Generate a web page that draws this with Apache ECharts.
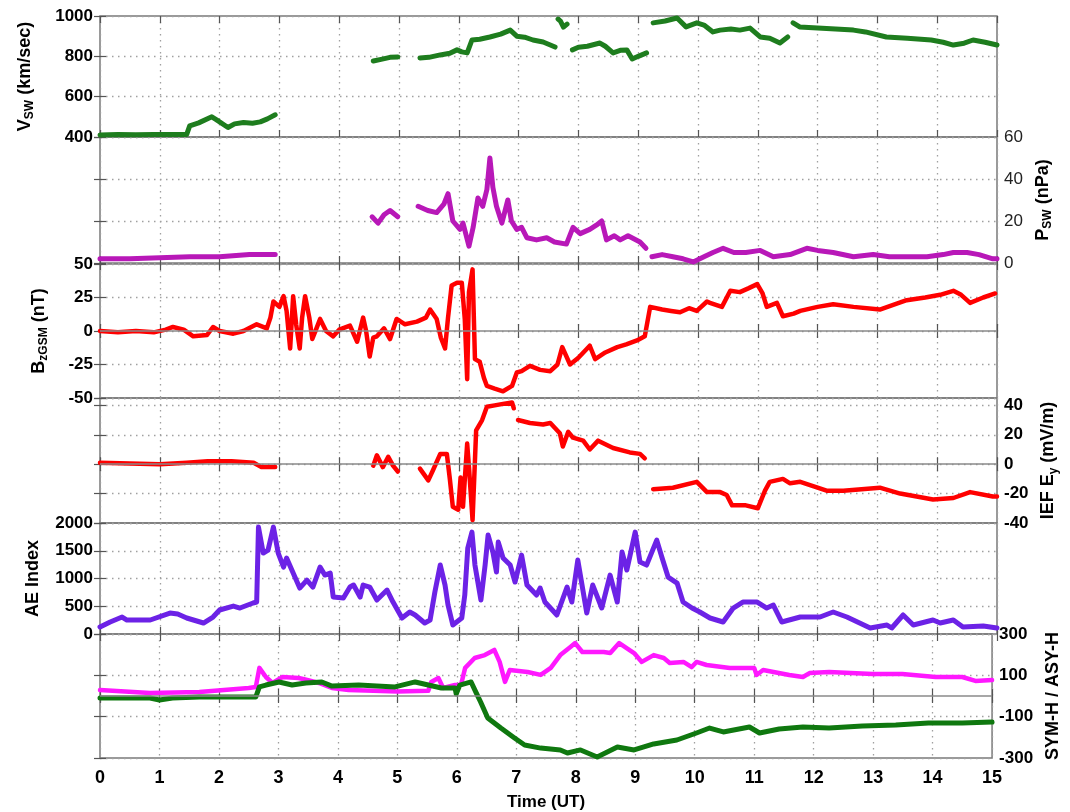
<!DOCTYPE html>
<html>
<head>
<meta charset="utf-8">
<script src="https://cdn.jsdelivr.net/npm/echarts@6/dist/echarts.min.js"></script>
<style>html,body{margin:0;padding:0;background:#fff}#c{width:1070px;height:812px}</style>
</head>
<body>
<div id="c"></div>
<script>
// ---------- DATA (time in UT hours, '-' = data gap) ----------
const xTicks = [0,1,2,3,4,5,6,7,8,9,10,11,12,13,14,15];

const vswData = [[0,410],[0.3,412],[0.6,411],[0.9,413],[1.2,412],[1.45,413],[1.5,455],[1.65,470],[1.87,500],[1.95,485],[2.14,447],[2.25,465],[2.4,472],[2.55,468],[2.68,475],[2.8,490],[2.93,510],[3.0,'-'],
 [4.57,777],[4.7,785],[4.85,795],[4.98,797],[5.1,'-'],
 [5.35,792],[5.5,795],[5.69,807],[5.85,815],[5.97,832],[6.05,822],[6.14,817],[6.22,881],[6.35,885],[6.52,896],[6.7,910],[6.86,930],[6.97,900],[7.1,895],[7.24,881],[7.41,871],[7.5,860],[7.61,846],[7.63,'-'],
 [7.66,985],[7.7,975],[7.75,945],[7.81,960],[7.85,'-'],
 [7.9,832],[8.0,845],[8.15,850],[8.36,866],[8.45,850],[8.58,817],[8.7,830],[8.81,832],[8.9,787],[9.0,800],[9.14,817],[9.2,'-'],
 [9.25,966],[9.45,975],[9.65,990],[9.8,946],[9.98,966],[10.1,955],[10.25,921],[10.37,930],[10.55,935],[10.7,930],[10.87,940],[11.04,896],[11.2,890],[11.37,866],[11.5,896],[11.55,'-'],
 [11.59,966],[11.7,946],[12.0,940],[12.3,935],[12.6,930],[12.8,921],[13.15,896],[13.5,890],[13.9,881],[14.1,870],[14.27,856],[14.45,865],[14.6,881],[14.8,870],[15,856]];

const pswData = [[0,2],[0.5,2],[1.0,2.5],[1.5,3],[2.0,3],[2.5,4],[2.93,4],[3.0,'-'],
 [4.55,22],[4.65,19],[4.75,23],[4.85,25],[4.98,22],[5.1,'-'],
 [5.32,27],[5.48,25],[5.63,24],[5.75,28],[5.82,33],[5.9,20],[6.02,16],[6.07,19],[6.17,8],[6.24,17],[6.32,31],[6.4,27],[6.47,35],[6.52,50],[6.57,36],[6.63,27],[6.72,19],[6.82,30],[6.88,20],[6.97,16],[7.05,17],[7.14,12],[7.3,11],[7.47,12],[7.6,10],[7.8,9],[7.91,17],[8.03,14],[8.19,16],[8.3,18],[8.39,20],[8.47,11],[8.6,13],[8.7,11],[8.83,13],[9.03,10],[9.13,7],[9.18,'-'],
 [9.23,3],[9.4,4],[9.58,3],[9.75,2],[9.92,0.5],[10.1,3],[10.25,5],[10.42,7],[10.6,5],[10.8,5],[11.04,6],[11.26,3],[11.54,4],[11.82,7],[12.0,6],[12.26,5],[12.6,3],[12.93,4],[13.2,3],[13.38,3],[13.83,3],[14.1,4],[14.27,5],[14.5,5],[14.7,4],[14.93,2],[15,2]];

const bzData = [[0,0],[0.3,-1],[0.6,0],[0.9,-1],[1.1,1],[1.22,3],[1.4,1],[1.56,-4],[1.79,-3],[1.89,3],[2.0,0],[2.23,-2],[2.4,0],[2.62,5],[2.79,2],[2.85,10],[2.9,22],[3.0,18],[3.07,26],[3.12,15],[3.18,-13],[3.23,26],[3.28,5],[3.34,-13],[3.38,10],[3.43,26],[3.5,10],[3.55,-6],[3.62,2],[3.68,9],[3.78,0],[3.9,-4],[4.0,1],[4.18,4],[4.3,-8],[4.4,10],[4.45,0],[4.51,-19],[4.57,-5],[4.63,-4],[4.75,2],[4.85,-6],[4.96,9],[5.1,5],[5.3,7],[5.45,10],[5.52,16],[5.63,9],[5.7,-5],[5.77,-13],[5.82,10],[5.88,34],[5.97,36],[6.05,36],[6.1,9],[6.14,-36],[6.17,29],[6.23,46],[6.27,-21],[6.35,-23],[6.42,-35],[6.47,-41],[6.6,-43],[6.74,-45],[6.89,-41],[6.97,-31],[7.05,-30],[7.19,-26],[7.36,-29],[7.53,-30],[7.65,-25],[7.73,-12],[7.86,-25],[8.0,-20],[8.19,-11],[8.28,-21],[8.45,-16],[8.65,-12],[8.8,-10],[8.98,-7],[9.11,-4],[9.2,18],[9.4,16],[9.55,15],[9.7,14],[9.85,17],[9.98,15],[10.15,22],[10.2,21],[10.4,18],[10.54,30],[10.7,29],[10.85,32],[10.99,35],[11.08,28],[11.15,18],[11.32,21],[11.42,11],[11.6,13],[11.71,15],[12.0,18],[12.26,20],[12.6,18],[13.04,16],[13.3,20],[13.49,23],[13.8,25],[14.05,27],[14.27,30],[14.4,27],[14.55,21],[14.77,25],[14.97,28]];

const eyData = [[0,1],[0.5,0.5],[1.0,0],[1.45,1],[1.8,2],[2.2,2],[2.57,1],[2.7,-2],[2.93,-2],[3.0,'-'],
 [4.57,-1],[4.63,6],[4.73,-2],[4.82,5],[4.9,-1],[4.98,-5],[5.1,'-'],
 [5.35,-3],[5.49,-11],[5.57,-4],[5.69,7],[5.8,7],[5.85,-10],[5.9,-29],[5.99,-31],[6.03,-9],[6.07,-29],[6.14,14],[6.17,-2],[6.23,-38],[6.29,23],[6.39,30],[6.47,39],[6.6,40],[6.74,41],[6.89,42],[6.92,38],[6.95,'-'],
 [6.99,30],[7.19,28],[7.41,27],[7.53,28],[7.69,21],[7.74,12],[7.83,22],[7.91,18],[8.08,16],[8.19,10],[8.33,16],[8.58,11],[8.86,8],[9.03,7],[9.11,4],[9.18,'-'],
 [9.25,-17],[9.58,-16],[9.98,-12],[10.15,-19],[10.37,-19],[10.48,-21],[10.57,-28],[10.8,-28],[11.0,-30],[11.12,-18],[11.2,-12],[11.42,-10],[11.54,-13],[11.71,-12],[12.15,-18],[12.43,-18],[13.04,-16],[13.38,-20],[13.93,-24],[14.27,-23],[14.55,-19],[14.93,-22],[15,-22]];

const aeData = [[0,126],[0.17,216],[0.37,306],[0.45,252],[0.84,252],[1.17,378],[1.3,360],[1.45,288],[1.73,198],[1.89,306],[2.0,432],[2.23,504],[2.34,468],[2.56,558],[2.62,576],[2.65,1926],[2.73,1458],[2.81,1512],[2.9,1926],[2.98,1458],[3.07,1206],[3.12,1368],[3.23,1098],[3.34,828],[3.46,972],[3.56,846],[3.68,1206],[3.76,1062],[3.85,1098],[3.9,666],[4.07,648],[4.18,846],[4.24,882],[4.35,666],[4.4,882],[4.51,846],[4.63,612],[4.8,792],[4.9,576],[5.05,288],[5.18,396],[5.27,342],[5.43,198],[5.52,252],[5.6,756],[5.69,1242],[5.77,882],[5.82,522],[5.9,162],[6.05,288],[6.1,702],[6.15,1548],[6.22,1836],[6.27,1242],[6.37,612],[6.44,1242],[6.49,1782],[6.57,1476],[6.63,1116],[6.66,1656],[6.74,1368],[6.86,1242],[6.94,936],[7.05,1422],[7.14,882],[7.3,702],[7.36,828],[7.44,576],[7.64,342],[7.81,846],[7.89,576],[7.99,1332],[8.14,378],[8.24,882],[8.39,468],[8.53,1062],[8.65,576],[8.73,1476],[8.81,1152],[8.95,1836],[9.03,1296],[9.14,1242],[9.31,1692],[9.4,1368],[9.5,1026],[9.65,918],[9.75,576],[9.9,468],[10.03,396],[10.2,288],[10.42,216],[10.59,468],[10.75,576],[10.99,576],[11.15,468],[11.26,522],[11.4,216],[11.71,306],[12.04,306],[12.26,396],[12.49,306],[12.88,108],[13.16,162],[13.24,108],[13.43,342],[13.6,162],[13.93,252],[14.05,198],[14.27,252],[14.43,126],[14.77,144],[15,108]];

const asyData = [[0,29],[0.84,15],[1.67,19],[2.5,39],[2.62,44],[2.68,136],[2.79,92],[2.9,63],[3.07,92],[3.34,87],[3.45,80],[3.68,63],[3.9,39],[4.18,29],[4.6,25],[5.0,22],[5.52,25],[5.57,68],[5.69,87],[5.77,39],[5.97,53],[6.07,53],[6.14,136],[6.3,184],[6.47,198],[6.63,223],[6.72,165],[6.81,68],[6.89,126],[7.19,116],[7.41,102],[7.58,136],[7.74,198],[7.91,237],[7.99,256],[8.11,213],[8.47,213],[8.58,208],[8.73,256],[8.98,208],[9.11,165],[9.31,198],[9.48,184],[9.58,160],[9.81,165],[9.95,140],[10.03,165],[10.2,150],[10.59,136],[11.0,136],[11.04,102],[11.15,126],[11.59,102],[11.82,92],[11.93,111],[12.26,116],[12.99,106],[13.49,106],[14.05,92],[14.5,92],[14.72,73],[15,77]];

const symData = [[0,-10],[0.84,-10],[1.0,-19],[1.22,-10],[1.67,-5],[2.62,-5],[2.68,44],[2.79,53],[3.01,68],[3.23,53],[3.46,63],[3.73,68],[3.9,48],[4.35,53],[4.96,44],[5.3,68],[5.52,53],[5.74,39],[5.97,39],[5.99,10],[6.05,53],[6.24,68],[6.32,19],[6.4,-29],[6.52,-106],[6.74,-155],[6.97,-203],[7.14,-237],[7.41,-252],[7.74,-261],[7.86,-276],[8.08,-261],[8.36,-295],[8.7,-247],[8.98,-261],[9.31,-232],[9.7,-213],[10.03,-179],[10.25,-155],[10.48,-174],[10.92,-150],[11.09,-179],[11.42,-160],[11.82,-150],[12.26,-155],[12.82,-145],[13.38,-140],[13.93,-131],[14.5,-131],[15,-126]];

// ---------- LAYOUT / STYLE ----------
const FONT = 'Liberation Sans, Arial, sans-serif';
const L = 100, R = 73;
const tops = [16, 137, 264, 398, 523, 634];
const heights = [121, 126, 134, 125, 111, 124];
const DOT = {type: [1.5, 4.5], color: '#a0a0a0', width: 1.3};

const rich = {
  m: {fontSize: 18, fontWeight: 'bold', fontFamily: FONT, color: '#000', lineHeight: 22},
  s: {fontSize: 12, fontWeight: 'bold', fontFamily: FONT, color: '#000', lineHeight: 12, verticalAlign: 'bottom'}
};

const panels = [
  {min: 400, max: 1000, interval: 200, pos: 'left', name: '{m|V}{s|SW}{m| (km/sec)}', gap: 64, bold: true},
  {min: 0, max: 60, interval: 20, pos: 'right', name: '{m|P}{s|SW}{m| (nPa)}', gap: 34, bold: false},
  {min: -50, max: 50, interval: 25, pos: 'left', name: '{m|B}{s|zGSM}{m| (nT)}', gap: 50, bold: true, zero: true},
  {min: -40, max: 45, interval: 20, pos: 'right', name: '{m|IEF E}{s|y}{m| (mV/m)}', gap: 36, bold: true, zero: true, hideAbove: 40},
  {min: 0, max: 2000, interval: 500, pos: 'left', name: '{m|AE Index}', gap: 56, bold: true},
  {min: -300, max: 300, interval: 200, pos: 'right', name: '{m|SYM-H / ASY-H}', gap: 48, bold: true, zero: true}
];

const grid = tops.map((t, i) => ({
  left: L, right: R, top: t, height: heights[i], show: true,
  borderColor: '#7a7a7a', borderWidth: 1.5, backgroundColor: 'transparent'
}));

const xAxis = [];
const yAxis = [];
const series = [];

panels.forEach((p, i) => {
  const last = i === panels.length - 1;
  xAxis.push({
    type: 'value', gridIndex: i, min: 0, max: 15, interval: 1, position: 'bottom',
    axisLine: {show: false},
    axisTick: {show: true, inside: true, length: 7, lineStyle: {color: '#555', width: 1.2}},
    axisLabel: {show: last, fontSize: 18, fontWeight: 'bold', fontFamily: FONT, color: '#000', margin: 11},
    splitLine: {show: true, lineStyle: DOT},
    name: last ? 'Time (UT)' : '', nameLocation: 'middle', nameGap: 36,
    nameTextStyle: {fontSize: 17, fontWeight: 'bold', fontFamily: FONT, color: '#000'}
  });
  xAxis.push({
    type: 'value', gridIndex: i, min: 0, max: 15, interval: 1, position: 'top',
    axisLine: {show: false},
    axisTick: {show: true, inside: true, length: 7, lineStyle: {color: '#555', width: 1.2}},
    axisLabel: {show: false}, splitLine: {show: false}
  });
  yAxis.push({
    type: 'value', gridIndex: i, min: p.min, max: p.max, interval: p.interval, position: p.pos,
    axisLine: {show: false},
    axisTick: {show: true, inside: true, length: 6, lineStyle: {color: '#555', width: 1.2}},
    axisLabel: {
      show: true, fontSize: 17, fontWeight: p.bold ? 'bold' : 'normal', fontFamily: FONT,
      color: p.bold ? '#000' : '#222', margin: 7,
      formatter: v => (p.hideAbove !== undefined && v > p.hideAbove) ? '' : String(v)
    },
    splitLine: {show: true, lineStyle: DOT},
    name: p.name, nameLocation: 'middle', nameRotate: 90, nameGap: p.gap,
    nameTextStyle: {rich: rich}
  });
  yAxis.push({
    type: 'value', gridIndex: i, min: p.min, max: p.max, interval: p.interval,
    position: p.pos === 'left' ? 'right' : 'left',
    axisLine: {show: false},
    axisTick: {show: true, inside: true, length: 6, lineStyle: {color: '#555', width: 1.2}},
    axisLabel: {show: false}, splitLine: {show: false}
  });
  if (p.zero) {
    series.push({
      type: 'line', xAxisIndex: 2 * i, yAxisIndex: 2 * i, data: [], z: 1, silent: true,
      markLine: {silent: true, symbol: 'none', label: {show: false}, animation: false,
        lineStyle: {color: '#8a8a8a', type: 'solid', width: 1.5}, data: [{yAxis: 0}]}
    });
  }
});

function lineSeries(panel, data, color, width) {
  return {
    type: 'line', xAxisIndex: 2 * panel, yAxisIndex: 2 * panel, data: data,
    showSymbol: false, connectNulls: false, z: 3,
    lineStyle: {color: color, width: width, join: 'round', cap: 'round'},
    itemStyle: {color: color}
  };
}

series.push(lineSeries(0, vswData, '#1e7d1e', 5));
series.push(lineSeries(1, pswData, '#b818b8', 5));
series.push(lineSeries(2, bzData, '#ff0000', 4.5));
series.push(lineSeries(3, eyData, '#ff0000', 4.5));
series.push(lineSeries(4, aeData, '#6c22e6', 5));
series.push(lineSeries(5, asyData, '#ff18ff', 4.5));
series.push(lineSeries(5, symData, '#0f780f', 5));

const chart = echarts.init(document.getElementById('c'), null, {renderer: 'canvas'});
chart.setOption({
  animation: false,
  backgroundColor: '#fff',
  textStyle: {fontFamily: FONT},
  grid: grid, xAxis: xAxis, yAxis: yAxis, series: series
});
</script>
</body>
</html>
